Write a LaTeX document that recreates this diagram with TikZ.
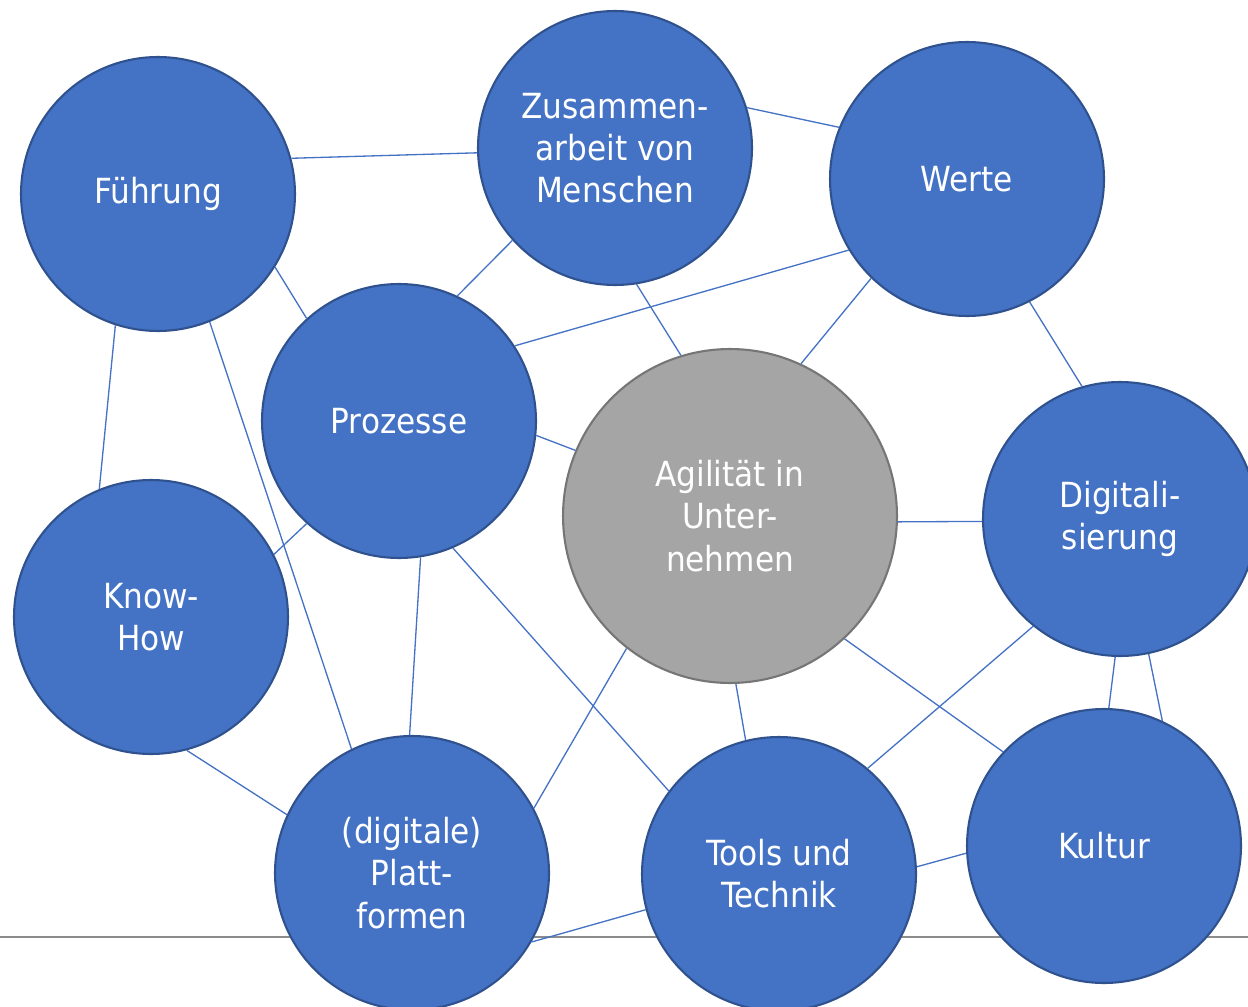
\documentclass[tikz,border=0pt]{standalone}
\usepackage{fontspec}
\setmainfont{DejaVu Sans Condensed}
\usepackage{tikz}
\definecolor{nodeblue}{RGB}{68, 114, 196}
\definecolor{borderblue}{RGB}{47, 82, 143}
\definecolor{coregray}{RGB}{165, 165, 165}
\definecolor{bordergray}{RGB}{118, 118, 118}
\definecolor{rulegray}{RGB}{140, 140, 140}

\begin{document}
\begin{tikzpicture}[x=0.02cm, y=-0.02cm,
    topic/.style={draw=borderblue, line width=1.2pt, circle, fill=nodeblue, minimum size=5.48cm, inner sep=0pt, text=white, align=center, font=\fontsize{19.7}{24}\selectfont},
    core/.style={topic, draw=bordergray, fill=coregray, minimum size=6.68cm},
    link/.style={color=nodeblue, line width=0.75pt},
    rule/.style={color=rulegray, line width=0.9pt}
]
\useasboundingbox (0,0) rectangle (1248,1007);

% Base line
\coordinate (ruleL) at (0,937);
\coordinate (ruleR) at (1248,937);
\draw[rule] (ruleL) -- (ruleR);

% Topics
\node[topic] (fuehrung) at (158,194) {Führung};
\node[topic] (zusammen) at (615,148) {Zusammen-\\arbeit von\\Menschen};
\node[topic] (werte) at (967,179) {Werte};
\node[topic] (prozesse) at (399,421) {Prozesse};
\node[topic] (digital) at (1120,519) {Digitali-\\sierung};
\node[topic] (knowhow) at (151,617) {Know-\\How};
\node[topic] (plattform) at (412,873) {(digitale)\\Platt-\\formen};
\node[topic] (tools) at (779,874) {Tools und\\Technik};
\node[topic] (kultur) at (1104,846) {Kultur};

% Centre
\node[core] (agil) at (730,516) {Agilität in\\Unter-\\nehmen};

% Connections
\draw[link] (fuehrung.15) -- (zusammen.182);
\draw[link] (zusammen.17) -- (werte.158);
\draw[link] (fuehrung.328) -- (prozesse.132);
\draw[link] (zusammen.222) -- (prozesse.65);
\draw[link] (zusammen.279) -- (agil.107);
\draw[link] (werte.211) -- (prozesse.33);
\draw[link] (werte.226) -- (agil.65);
\draw[link] (werte.297) -- (digital.106);
\draw[link] (prozesse.354) -- (agil.157);
\draw[link] (agil.358) -- (digital.181);
\draw[link] (fuehrung.252) -- (knowhow.112);
\draw[link] (fuehrung.292) -- (plattform.116);
\draw[link] (prozesse.228) -- (knowhow.27);
\draw[link] (prozesse.279) -- (plattform.91);
\draw[link] (prozesse.293) -- (tools.143);
\draw[link] (agil.232) -- (plattform.28);
\draw[link] (agil.272) -- (tools.104);
\draw[link] (agil.313) -- (kultur.137);
\draw[link] (digital.231) -- (tools.50);
\draw[link] (digital.268) -- (kultur.88);
\draw[link] (digital.282) -- (kultur.65);
\draw[link] (knowhow.285) -- (plattform.155);
\draw[link] (plattform.330) -- (tools.195);
\draw[link] (tools.3) -- (kultur.183);

\end{tikzpicture}
\end{document}
